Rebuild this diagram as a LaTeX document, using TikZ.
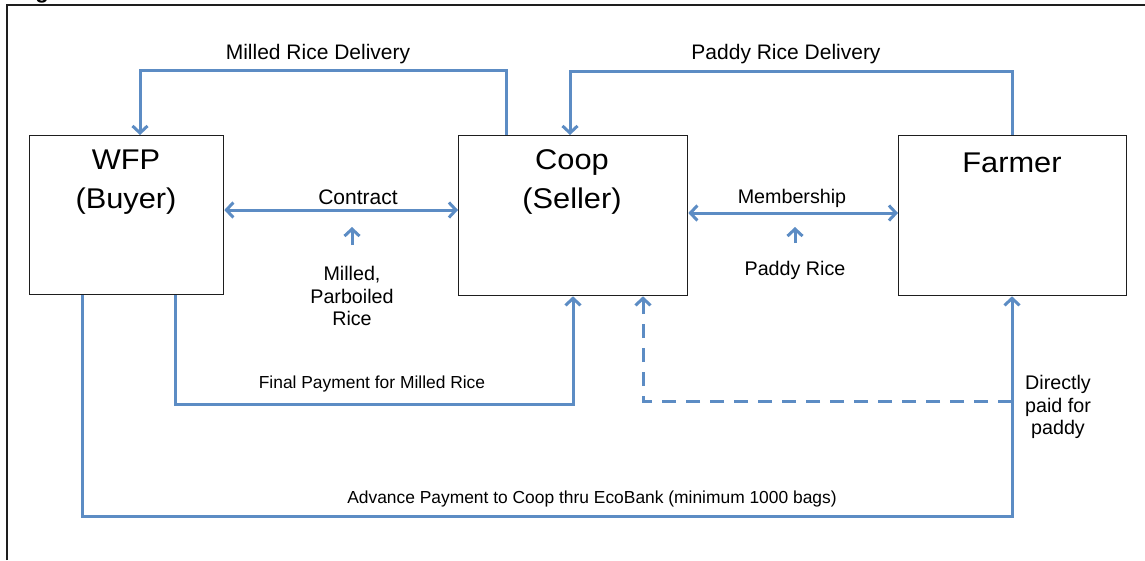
\documentclass[tikz,border=0pt]{standalone}
\usepackage{fontspec}
\setmainfont{Liberation Sans}
\newfontfamily\widefont[FakeStretch=1.08]{Liberation Sans}
\usetikzlibrary{arrows.meta,calc}
\definecolor{flow}{RGB}{92,140,196}
\definecolor{frame}{RGB}{30,30,30}
\tikzset{
  party/.style={draw=frame, line width=1.3pt, fill=white, inner sep=0pt, anchor=north west},
  bigtext/.style={font=\widefont\fontsize{28.5}{39}\selectfont, align=center, inner sep=0pt},
  toplbl/.style={font=\fontsize{21}{22}\selectfont, align=center, inner sep=0pt},
  lbl/.style={font=\fontsize{19.7}{22.5}\selectfont, align=center, inner sep=0pt},
  smalllbl/.style={font=\fontsize{17.4}{19}\selectfont, align=center, inner sep=0pt},
  flowline/.style={draw=flow, line width=3pt, line join=miter},
  tip/.style={-{Straight Barb[length=7pt,width=15pt,line width=3pt]}},
  tips/.style={{Straight Barb[length=7pt,width=15pt,line width=3pt]}-{Straight Barb[length=7pt,width=15pt,line width=3pt]}},
}
\begin{document}
\begin{tikzpicture}[x=1pt,y=-1pt]
\useasboundingbox (0,0) rectangle (1145,560);
% page frame and the foot of the caption letter above it
\begin{scope}
  \clip (0,0) rectangle (1145,560);
  \node[font=\bfseries\fontsize{22}{22}\selectfont, anchor=base, inner sep=0pt] (cap) at (42,-2) {g};
\end{scope}
\draw[frame, line width=1.3pt] (7,560) -- (7,5) -- (1145,5);

% parties
\node[party, minimum width=194pt, minimum height=159pt] (wfp) at (29,135) {};
\node[party, minimum width=229pt, minimum height=160pt] (coop) at (458,135) {};
\node[party, minimum width=228pt, minimum height=160pt] (farmer) at (898,135) {};
\node[bigtext] (wfpt) at (126,182) {WFP\\(Buyer)};
\node[bigtext] (coopt) at (572,182) {Coop\\(Seller)};
\node[bigtext] (farmert) at (1012,163) {Farmer};

% deliveries along the top
\coordinate (md1) at (506,70);
\coordinate (md2) at (140,70);
\draw[flowline, tip] (506,0 |- coop.north) -- (md1) -- (md2) -- (md2 |- wfp.north);
\node[toplbl] (mdl) at (318,54) {Milled Rice Delivery};

\coordinate (pd1) at (1012,71);
\coordinate (pd2) at (570,71);
\draw[flowline, tip] (1012,0 |- farmer.north) -- (pd1) -- (pd2) -- (pd2 |- coop.north);
\node[toplbl] (pdl) at (786,54) {Paddy Rice Delivery};

% contract and membership
\draw[flowline, tips] (wfp.east |- 0,210) -- (coop.west |- 0,210);
\node[toplbl] (ctl) at (358,197) {Contract};
\node[lbl] (mpr) at (352,296) {Milled,\\Parboiled\\Rice};
\draw[flowline, tip] (352,245) -- (352,227);

\draw[flowline, tips] (coop.east |- 0,213) -- (farmer.west |- 0,213);
\node[lbl] (msl) at (792,198) {Membership};
\node[lbl] (prl) at (795,270) {Paddy Rice};
\draw[flowline, tip] (795,243) -- (795,227);

% payments
\coordinate (fp1) at (175,404);
\coordinate (fp2) at (573,404);
\draw[flowline, tip] (fp1 |- wfp.south) -- (fp1) -- (fp2) -- (fp2 |- coop.south);
\node[smalllbl] (fpl) at (372,384) {Final Payment for Milled Rice};

\coordinate (ap1) at (82,516);
\coordinate (ap2) at (1012,516);
\draw[flowline, tip] (ap1 |- wfp.south) -- (ap1) -- (ap2) -- (ap2 |- farmer.south);
\node[smalllbl] (apl) at (592,499) {Advance Payment to Coop thru EcoBank (minimum 1000 bags)};

\coordinate (dp1) at (1012,401);
\coordinate (dp2) at (643,401);
\draw[flowline, tip, dash pattern=on 14pt off 10pt] (dp1) -- (dp2) -- (dp2 |- coop.south);
\node[lbl] (dpl) at (1058,407) {Directly\\paid for\\paddy};
\end{tikzpicture}
\end{document}
